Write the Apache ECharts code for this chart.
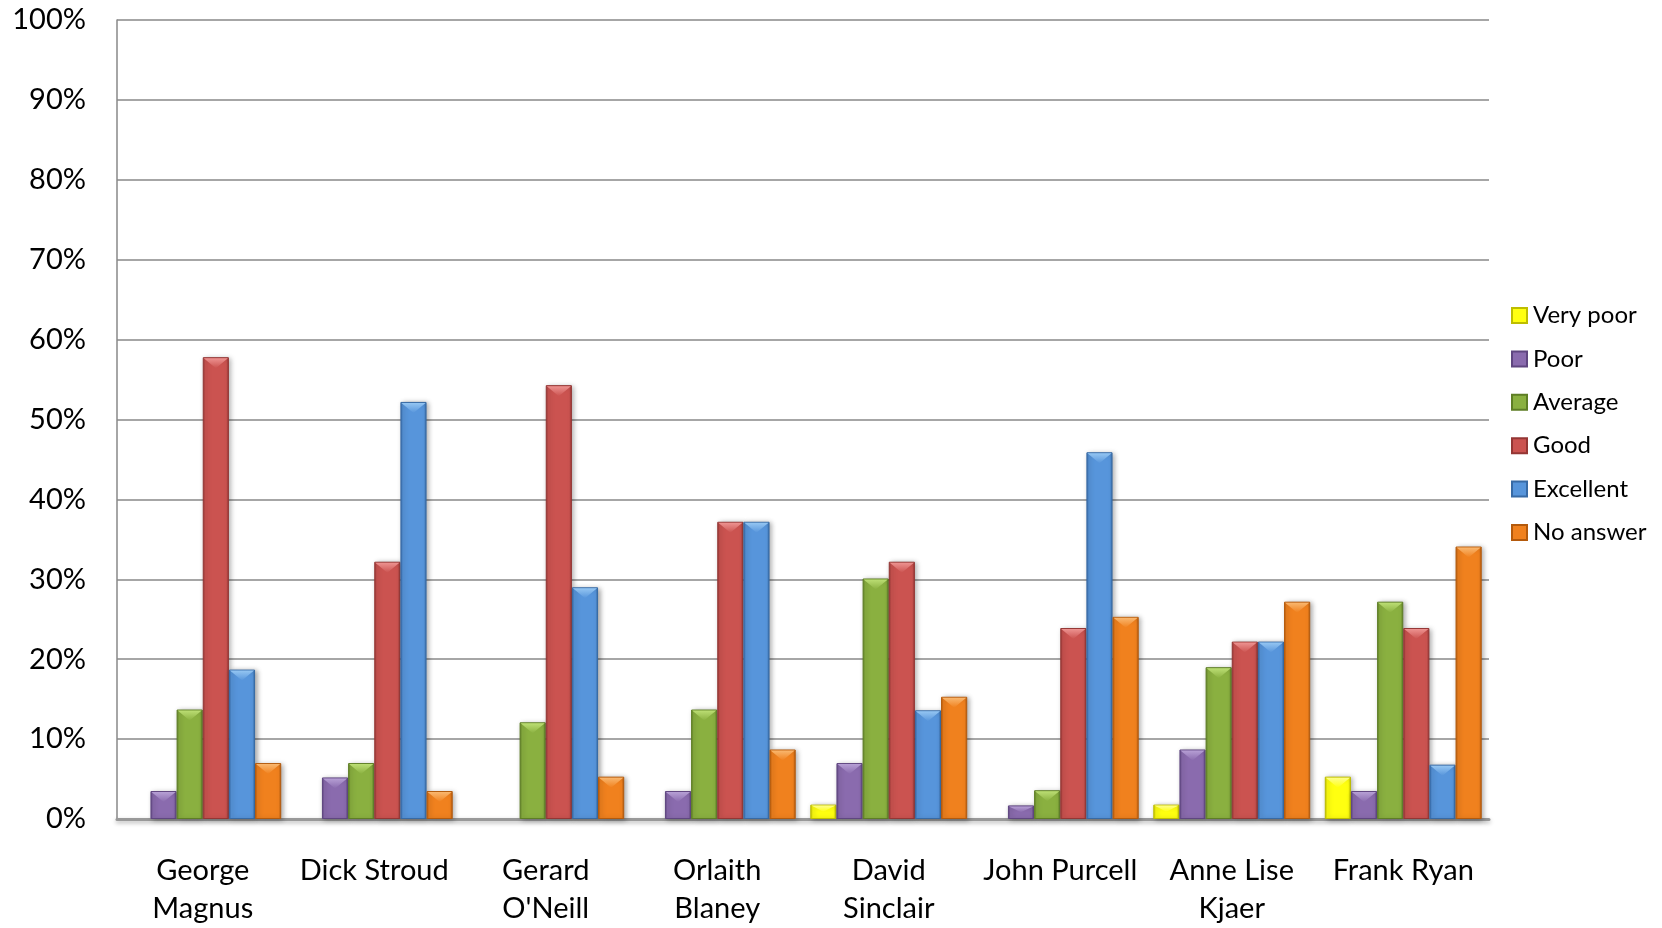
<!DOCTYPE html>
<html>
<head>
<meta charset="utf-8">
<title>Speaker ratings</title>
<script src="https://cdn.jsdelivr.net/npm/echarts@6/dist/echarts.min.js"></script>
<style>
  html, body { margin: 0; padding: 0; background: #ffffff; }
  #chart { width: 1662px; height: 928px; }
</style>
</head>
<body>
<div id="chart"></div>
<script>
// Speakers (categories)
const speakers = ['George\nMagnus', 'Dick Stroud', 'Gerard\nO\'Neill', 'Orlaith\nBlaney',
  'David\nSinclair', 'John Purcell', 'Anne Lise\nKjaer', 'Frank Ryan'];

// Share of responses per rating, in percent ('-' = no responses)
const veryPoor  = ['-', '-', '-', '-', 1.8, '-', 1.8, 5.3];
const poor      = [3.5, 5.2, '-', 3.5, 7.0, 1.7, 8.7, 3.5];
const average   = [13.7, 7.0, 12.1, 13.7, 30.1, 3.6, 19.0, 27.2];
const good      = [57.8, 32.2, 54.3, 37.2, 32.2, 23.9, 22.2, 23.9];
const excellent = [18.7, 52.2, 29.0, 37.2, 13.6, 45.9, 22.2, 6.8];
const noAnswer  = [7.0, 3.5, 5.3, 8.7, 15.3, 25.3, 27.2, 34.1];

const ratingNames = ['Very poor', 'Poor', 'Average', 'Good', 'Excellent', 'No answer'];
const ratingValues = [veryPoor, poor, average, good, excellent, noAnswer];

// yAxis ticks
const yTicks = [0, 10, 20, 30, 40, 50, 60, 70, 80, 90, 100];

// body / highlight / edge shades for the bevelled bars
const palette = [
  { body: '#FFFF10', light: '#FFFF9A', edge: '#BDBD00' },
  { body: '#8A6BAE', light: '#BCA6DA', edge: '#5F4680' },
  { body: '#8AB040', light: '#C2E47A', edge: '#5E7E25' },
  { body: '#CB5350', light: '#F29A98', edge: '#943634' },
  { body: '#5795DB', light: '#9CCCF6', edge: '#376AA5' },
  { body: '#F0811E', light: '#FCBE78', edge: '#B45A0C' }
];

const FONT = 'Lato';
const CATEGORY_GAP = 0.085;

function bevel(c) {
  return new echarts.graphic.LinearGradient(0, 0, 1, 0, [
    { offset: 0, color: c.edge },
    { offset: 0.1, color: c.body },
    { offset: 0.9, color: c.body },
    { offset: 1, color: c.edge }
  ]);
}

const barSeries = ratingNames.map((name, i) => ({
  name: name,
  type: 'bar',
  data: ratingValues[i],
  barGap: '0%',
  barCategoryGap: (CATEGORY_GAP * 100) + '%',
  itemStyle: {
    color: bevel(palette[i]),
    borderColor: palette[i].edge,
    borderWidth: 1,
    shadowColor: 'rgba(0,0,0,0.35)',
    shadowBlur: 5,
    shadowOffsetX: 2,
    shadowOffsetY: 1
  },
  emphasis: { disabled: true }
}));

// Highlight facet at the top of each bar (bevel effect)
const facetSeries = ratingNames.map((name, i) => ({
  type: 'custom',
  silent: true,
  z: 3,
  data: ratingValues[i]
    .map((v, k) => (v === '-' ? null : [k, v]))
    .filter(d => d !== null),
  renderItem: function (params, api) {
    const k = api.value(0);
    const v = api.value(1);
    const catW = api.size([1, 0])[0];
    const groupW = catW * (1 - CATEGORY_GAP);
    const bw = groupW / ratingNames.length;
    const base = api.coord([k, 0]);
    const top = api.coord([k, v])[1];
    const x0 = base[0] - groupW / 2 + i * bw;
    const barH = base[1] - top;
    const h = Math.min(bw * 0.42, barH * 0.5);
    return {
      type: 'polygon',
      shape: {
        points: [
          [x0 + 1, top + 1],
          [x0 + bw - 1, top + 1],
          [x0 + bw / 2, top + h]
        ]
      },
      style: {
        fill: new echarts.graphic.LinearGradient(0, 0, 0, 1, [
          { offset: 0, color: palette[i].light },
          { offset: 1, color: palette[i].body }
        ]),
        opacity: 0.9
      }
    };
  }
}));

const chart = echarts.init(document.getElementById('chart'), null, { renderer: 'canvas' });
chart.setOption({
  animation: false,
  backgroundColor: '#ffffff',
  textStyle: { fontFamily: FONT },
  grid: { left: 117, right: 173, top: 20, bottom: 108, containLabel: false },
  legend: {
    orient: 'vertical',
    left: 1511,
    top: 302,
    padding: 0,
    itemWidth: 15,
    itemHeight: 15,
    itemGap: 16.4,
    icon: 'rect',
    textStyle: { fontFamily: FONT, fontSize: 24, color: '#000', lineHeight: 27, padding: [0, 0, 0, 1] },
    data: ratingNames
  },
  xAxis: {
    type: 'category',
    data: speakers,
    axisTick: { show: false },
    axisLine: { show: true, lineStyle: { color: '#999', width: 3, shadowColor: 'rgba(0,0,0,0.3)', shadowBlur: 4, shadowOffsetY: 2 } },
    axisLabel: {
      interval: 0,
      margin: 33,
      fontFamily: FONT,
      fontSize: 29,
      lineHeight: 38,
      color: '#000'
    }
  },
  yAxis: {
    type: 'value',
    min: yTicks[0],
    max: yTicks[yTicks.length - 1],
    interval: yTicks[1] - yTicks[0],
    axisLine: { show: true, lineStyle: { color: '#888', width: 1.5 } },
    axisTick: { show: false },
    splitLine: { show: true, lineStyle: { color: '#888', width: 1.5 } },
    axisLabel: {
      margin: 31,
      fontFamily: FONT,
      fontSize: 29,
      color: '#000',
      formatter: v => v + '%'
    }
  },
  series: barSeries.concat(facetSeries)
});
</script>
</body>
</html>
